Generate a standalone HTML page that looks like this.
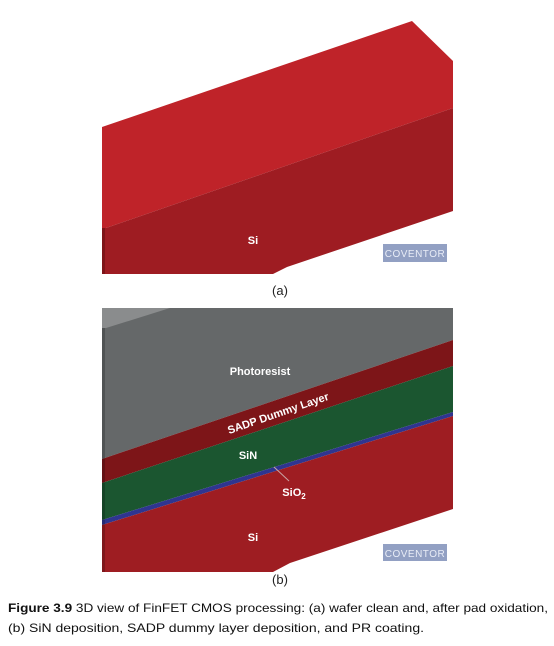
<!DOCTYPE html>
<html><head><meta charset="utf-8"><style>
html,body{margin:0;padding:0;background:#fff;width:554px;height:646px;overflow:hidden}
svg{display:block;font-family:"Liberation Sans",Arial,sans-serif}
</style></head><body>
<svg width="554" height="646" viewBox="0 0 554 646">
<g>
  <polygon points="102,127 412,21 453,61 453,108 106,228 102,228" fill="#bf2329"/>
  <polygon points="102,228 106,228 453,108 453,211 287,267 273,274 102,274" fill="#9e1c22"/>
  <rect x="102" y="228" width="3" height="46" fill="#7e1418"/>
  <text x="253" y="244" font-size="11" font-weight="bold" fill="#fff" text-anchor="middle">Si</text>
  <g>
    <rect x="383" y="244" width="64" height="18" fill="#7f8fb8" opacity="0.85"/>
    <text x="415" y="257" font-size="10" fill="#e8ecf6" text-anchor="middle" letter-spacing="0.5">COVENTOR</text>
  </g>
  <text x="280" y="295" font-size="13" fill="#222" text-anchor="middle">(a)</text>
</g>
<g>
  <polygon points="102,308 453,308 453,340 102,459" fill="#656869"/>
  <polygon points="102,308 170,308 106,328 102,328" fill="#8a8c8d"/>
  <polygon points="102,459 453,340 453,366 102,483" fill="#7d1518"/>
  <polygon points="102,483 453,366 453,412 102,520" fill="#1b5630"/>
  <polygon points="102,520 453,412 453,416 102,525" fill="#2f3590"/>
  <polygon points="102,525 453,416 453,509 290,563 273,572 102,572" fill="#9e1d22"/>
  <rect x="102" y="328" width="3" height="244" fill="#000" opacity="0.2"/>
  <text x="260" y="375" font-size="11" font-weight="bold" fill="#fff" text-anchor="middle">Photoresist</text>
  <text x="278" y="417" font-size="11" font-weight="bold" fill="#fff" text-anchor="middle" transform="rotate(-19 278 413)">SADP Dummy Layer</text>
  <text x="248" y="459" font-size="11" font-weight="bold" fill="#fff" text-anchor="middle">SiN</text>
  <line x1="289" y1="481" x2="274" y2="467" stroke="#c9a5a5" stroke-width="1"/>
  <text x="294" y="496" font-size="11" font-weight="bold" fill="#fff" text-anchor="middle">SiO<tspan font-size="8" dy="3">2</tspan></text>
  <text x="253" y="541" font-size="11" font-weight="bold" fill="#fff" text-anchor="middle">Si</text>
  <g>
    <rect x="383" y="544" width="64" height="17" fill="#7f8fb8" opacity="0.85"/>
    <text x="415" y="557" font-size="10" fill="#e8ecf6" text-anchor="middle" letter-spacing="0.5">COVENTOR</text>
  </g>
  <text x="280" y="584" font-size="13" fill="#222" text-anchor="middle">(b)</text>
</g>
<g font-size="12" fill="#111">
  <text x="8" y="612" textLength="540" lengthAdjust="spacingAndGlyphs"><tspan font-weight="bold">Figure 3.9</tspan>   3D view of FinFET CMOS processing: (a) wafer clean and, after pad oxidation,</text>
  <text x="8" y="632" textLength="416" lengthAdjust="spacingAndGlyphs">(b) SiN deposition, SADP dummy layer deposition, and PR coating.</text>
</g>
</svg>
</body></html>
